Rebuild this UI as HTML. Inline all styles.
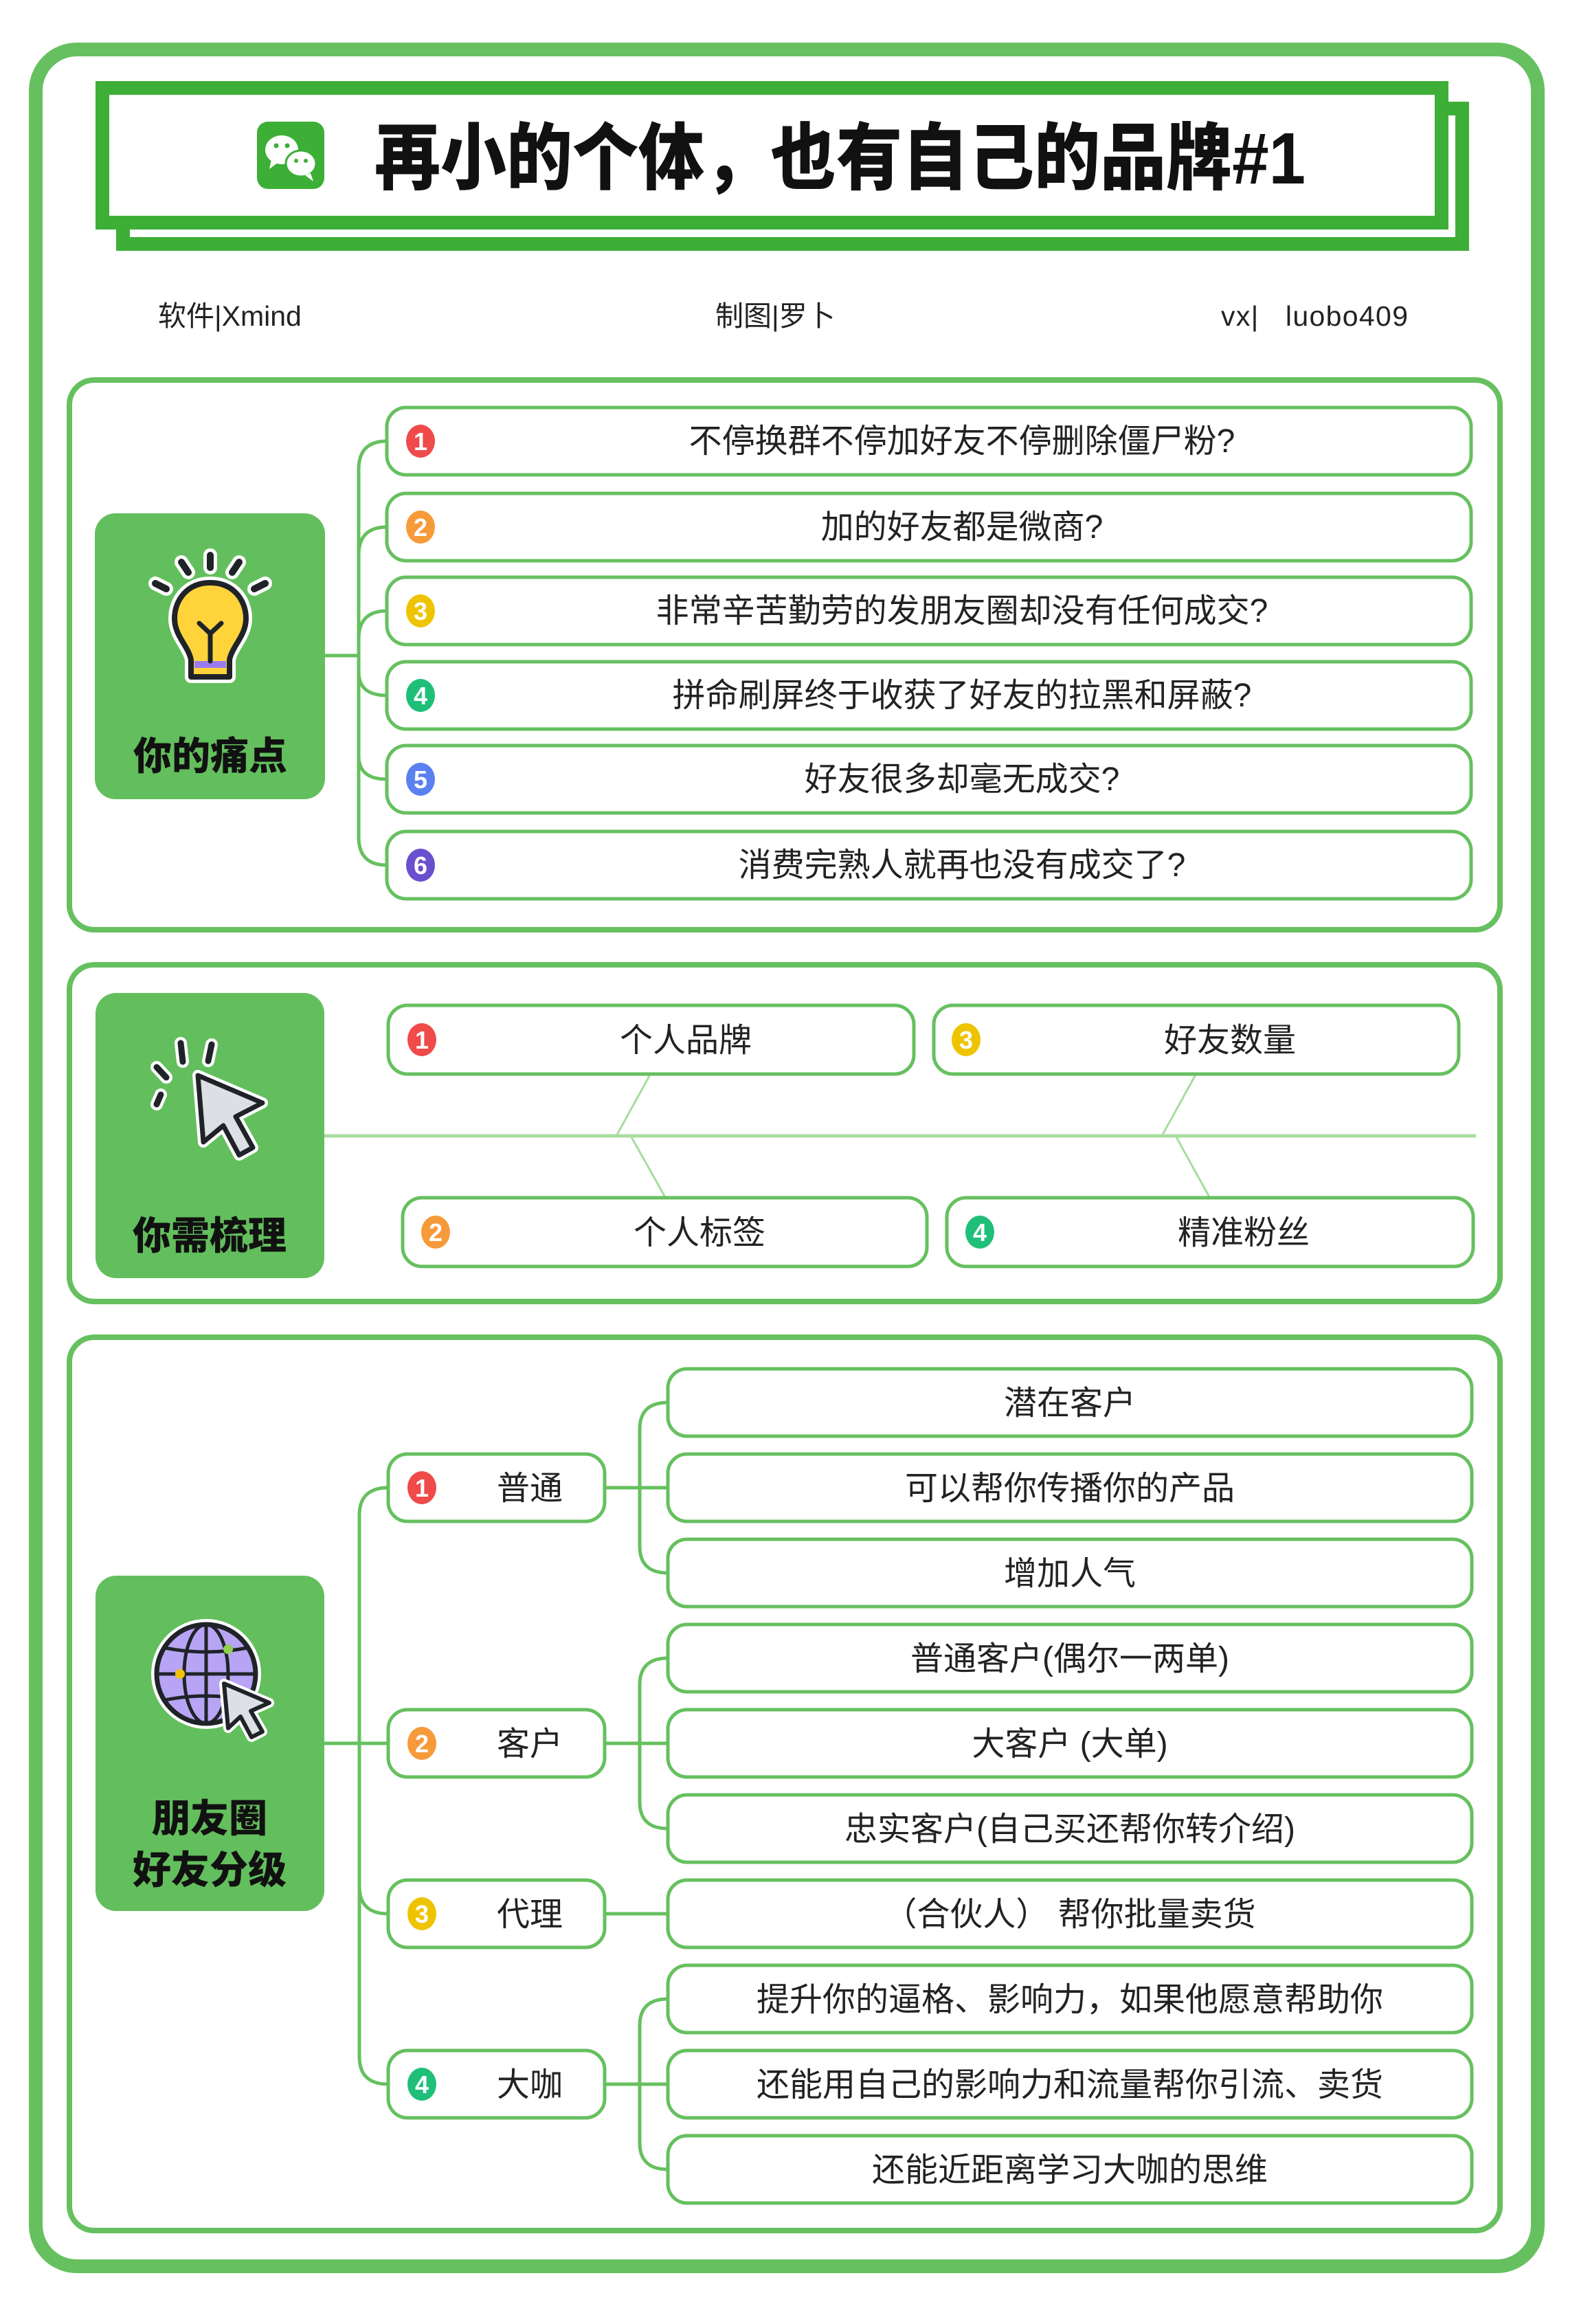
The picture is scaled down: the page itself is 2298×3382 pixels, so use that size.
<!DOCTYPE html>
<html><head><meta charset="utf-8"><style>
html,body{margin:0;padding:0;background:#fff}
svg{display:block}
text{font-family:"Liberation Sans","Noto Sans CJK SC",sans-serif}
</style></head><body>
<svg width="2298" height="3382" viewBox="0 0 2298 3382" xmlns="http://www.w3.org/2000/svg">
<rect x="52" y="72" width="2186" height="3226" rx="60" fill="#fff" stroke="#66c05f" stroke-width="20"/>
<rect x="179" y="158" width="1949" height="197" fill="#fff" stroke="#3daf37" stroke-width="20"/>
<rect x="149" y="128" width="1949" height="196" fill="#fff" stroke="#3daf37" stroke-width="20"/>
<rect x="374" y="177" width="98" height="98" rx="16" fill="#3daf37"/>
<ellipse cx="410" cy="218" rx="24" ry="21" fill="#fff"/>
<path d="M395 232 L392 246 L404 237 Z" fill="#fff"/>
<ellipse cx="438" cy="238" rx="22" ry="19" stroke="#3daf37" stroke-width="3" fill="#fff"/>
<path d="M452 252 L456 264 L444 255 Z" fill="#fff"/>
<circle cx="402" cy="212" r="3.5" fill="#3daf37"/><circle cx="418" cy="212" r="3.5" fill="#3daf37"/>
<circle cx="431" cy="234" r="3" fill="#3daf37"/><circle cx="445" cy="234" r="3" fill="#3daf37"/>
<text x="545" y="267" font-size="106" font-weight="900" fill="#111" textLength="1355" lengthAdjust="spacingAndGlyphs">再小的个体，也有自己的品牌#1</text>
<text x="230" y="474" font-size="41" fill="#222">软件|Xmind</text>
<text x="1041" y="474" font-size="41" fill="#222">制图|罗卜</text>
<text x="1777" y="474" font-size="41" fill="#222" textLength="272">vx|&#160;&#160;&#160;luobo409</text>

<!-- SECTION 1 -->
<rect x="101" y="553" width="2082" height="800" rx="36" fill="#fff" stroke="#66c05f" stroke-width="8"/>
<rect x="138" y="747" width="335" height="416" rx="30" fill="#63bf5d"/>
<g stroke-linecap="round">
<g stroke="#fff" stroke-width="20"><line x1="306" y1="808" x2="306" y2="826"/><line x1="264" y1="818" x2="274" y2="833"/><line x1="348" y1="818" x2="338" y2="833"/><line x1="226" y1="849" x2="242" y2="857"/><line x1="386" y1="849" x2="370" y2="857"/></g>
<g stroke="#1f2328" stroke-width="10"><line x1="306" y1="808" x2="306" y2="826"/><line x1="264" y1="818" x2="274" y2="833"/><line x1="348" y1="818" x2="338" y2="833"/><line x1="226" y1="849" x2="242" y2="857"/><line x1="386" y1="849" x2="370" y2="857"/></g>
</g>
<path d="M306 848 C340 848 358 874 358 900 C358 925 338 940 334 960 L334 985 L278 985 L278 960 C274 940 254 925 254 900 C254 874 272 848 306 848 Z" fill="#ffd43b" stroke="#fff" stroke-width="18" stroke-linejoin="round"/>
<path d="M306 848 C340 848 358 874 358 900 C358 925 338 940 334 960 L334 985 L278 985 L278 960 C274 940 254 925 254 900 C254 874 272 848 306 848 Z" fill="#ffd43b" stroke="#1f2328" stroke-width="8" stroke-linejoin="round"/>
<rect x="283" y="962" width="46" height="10" fill="#9b7cf0"/>
<path d="M290 907 L306 922 L322 907 M306 922 L306 962" stroke="#1f2328" stroke-width="7" fill="none" stroke-linecap="round"/>
<text x="306" y="1120" font-size="56" font-weight="900" fill="#111" text-anchor="middle">你的痛点</text>
<g stroke="#66c05f" stroke-width="5" fill="none">
<line x1="473" y1="954" x2="522" y2="954"/>
<path d="M563 642 Q522 642 522 683 L522 1218 Q522 1259 563 1259"/>
<path d="M522 808 Q522 767 563 767"/><path d="M522 930 Q522 889 563 889"/><path d="M522 978 Q522 1012 563 1012"/><path d="M522 1100 Q522 1134 563 1134"/>
</g>
<g fill="#fff" stroke="#66c05f" stroke-width="5">
<rect x="563" y="593" width="1578" height="98" rx="28"/>
<rect x="563" y="718" width="1578" height="98" rx="28"/>
<rect x="563" y="840" width="1578" height="98" rx="28"/>
<rect x="563" y="963" width="1578" height="98" rx="28"/>
<rect x="563" y="1085" width="1578" height="98" rx="28"/>
<rect x="563" y="1210" width="1578" height="98" rx="28"/>
</g>
<g font-size="36" font-weight="bold" fill="#fff" text-anchor="middle">
<ellipse cx="612" cy="642" rx="21" ry="24" fill="#f04a4a"/><text x="612" y="655">1</text>
<ellipse cx="612" cy="767" rx="21" ry="24" fill="#f79a3a"/><text x="612" y="780">2</text>
<ellipse cx="612" cy="889" rx="21" ry="24" fill="#eec400"/><text x="612" y="902">3</text>
<ellipse cx="612" cy="1012" rx="21" ry="24" fill="#1fbf7a"/><text x="612" y="1025">4</text>
<ellipse cx="612" cy="1134" rx="21" ry="24" fill="#5b80f0"/><text x="612" y="1147">5</text>
<ellipse cx="612" cy="1259" rx="21" ry="24" fill="#6a4fcf"/><text x="612" y="1272">6</text>
</g>
<g font-size="48" fill="#222" text-anchor="middle">
<text x="1400" y="658">不停换群不停加好友不停删除僵尸粉?</text>
<text x="1400" y="783">加的好友都是微商?</text>
<text x="1400" y="905">非常辛苦勤劳的发朋友圈却没有任何成交?</text>
<text x="1400" y="1028">拼命刷屏终于收获了好友的拉黑和屏蔽?</text>
<text x="1400" y="1150">好友很多却毫无成交?</text>
<text x="1400" y="1275">消费完熟人就再也没有成交了?</text>
</g>

<!-- SECTION 2 -->
<rect x="101" y="1404" width="2082" height="490" rx="36" fill="#fff" stroke="#66c05f" stroke-width="8"/>
<rect x="139" y="1445" width="333" height="415" rx="30" fill="#63bf5d"/>
<g stroke-linecap="round">
<g stroke="#fff" stroke-width="18"><line x1="263" y1="1518" x2="266" y2="1545"/><line x1="308" y1="1520" x2="303" y2="1544"/><line x1="228" y1="1553" x2="242" y2="1568"/><line x1="234" y1="1593" x2="228" y2="1607"/></g>
<g stroke="#1f2328" stroke-width="9"><line x1="263" y1="1518" x2="266" y2="1545"/><line x1="308" y1="1520" x2="303" y2="1544"/><line x1="228" y1="1553" x2="242" y2="1568"/><line x1="234" y1="1593" x2="228" y2="1607"/></g>
</g>
<path d="M288 1565 L382 1605 L343 1625 L368 1670 L348 1681 L325 1638 L296 1662 Z" fill="#dcdfe3" stroke="#fff" stroke-width="16" stroke-linejoin="round"/>
<path d="M288 1565 L382 1605 L343 1625 L368 1670 L348 1681 L325 1638 L296 1662 Z" fill="#dcdfe3" stroke="#1f2328" stroke-width="7" stroke-linejoin="round"/>
<text x="305" y="1818" font-size="56" font-weight="900" fill="#111" text-anchor="middle">你需梳理</text>
<line x1="472" y1="1653" x2="2148" y2="1653" stroke="#a8dca0" stroke-width="5"/>
<g stroke="#a8dca0" stroke-width="3">
<line x1="946" y1="1564" x2="897" y2="1653"/><line x1="918" y1="1653" x2="968" y2="1742"/>
<line x1="1740" y1="1564" x2="1691" y2="1653"/><line x1="1711" y1="1653" x2="1760" y2="1742"/>
</g>
<g fill="#fff" stroke="#66c05f" stroke-width="5">
<rect x="565" y="1463" width="765" height="100" rx="28"/>
<rect x="1359" y="1463" width="764" height="100" rx="28"/>
<rect x="586" y="1743" width="763" height="100" rx="28"/>
<rect x="1378" y="1743" width="766" height="100" rx="28"/>
</g>
<g font-size="36" font-weight="bold" fill="#fff" text-anchor="middle">
<ellipse cx="614" cy="1513" rx="21" ry="24" fill="#f04a4a"/><text x="614" y="1526">1</text>
<ellipse cx="1406" cy="1513" rx="21" ry="24" fill="#eec400"/><text x="1406" y="1526">3</text>
<ellipse cx="634" cy="1793" rx="21" ry="24" fill="#f79a3a"/><text x="634" y="1806">2</text>
<ellipse cx="1426" cy="1793" rx="21" ry="24" fill="#1fbf7a"/><text x="1426" y="1806">4</text>
</g>
<g font-size="48" fill="#222" text-anchor="middle">
<text x="998" y="1530">个人品牌</text>
<text x="1790" y="1530">好友数量</text>
<text x="1018" y="1810">个人标签</text>
<text x="1810" y="1810">精准粉丝</text>
</g>

<!-- SECTION 3 -->
<rect x="101" y="1946" width="2082" height="1300" rx="36" fill="#fff" stroke="#66c05f" stroke-width="8"/>
<rect x="139" y="2293" width="333" height="488" rx="30" fill="#63bf5d"/>
<circle cx="300" cy="2436" r="80" fill="#fff"/>
<circle cx="300" cy="2436" r="72" fill="#b8a4f5" stroke="#1f2328" stroke-width="7"/>
<g stroke="#1f2328" stroke-width="5" fill="none">
<ellipse cx="300" cy="2436" rx="32" ry="72"/><line x1="300" y1="2364" x2="300" y2="2508"/>
<line x1="228" y1="2436" x2="372" y2="2436"/><path d="M240 2398 Q300 2410 360 2398"/><path d="M240 2474 Q300 2462 360 2474"/>
</g>
<circle cx="262" cy="2436" r="7" fill="#f2c200"/><circle cx="332" cy="2400" r="7" fill="#8fd14f"/>
<path d="M326 2450 L392 2478 L365 2490 L382 2520 L366 2528 L350 2498 L332 2515 Z" fill="#dcdfe3" stroke="#fff" stroke-width="14" stroke-linejoin="round"/>
<path d="M326 2450 L392 2478 L365 2490 L382 2520 L366 2528 L350 2498 L332 2515 Z" fill="#dcdfe3" stroke="#1f2328" stroke-width="6" stroke-linejoin="round"/>
<text x="305" y="2666" font-size="56" font-weight="900" fill="#111" text-anchor="middle">朋友圈</text>
<text x="305" y="2741" font-size="56" font-weight="900" fill="#111" text-anchor="middle">好友分级</text>
<g stroke="#66c05f" stroke-width="5" fill="none">
<line x1="472" y1="2537" x2="565" y2="2537"/>
<path d="M565 2165 Q523 2165 523 2205 L523 2993 Q523 3033 565 3033"/>
<path d="M523 2745 Q523 2785 565 2785"/>
<line x1="880" y1="2165" x2="931" y2="2165"/><path d="M972 2041 Q931 2041 931 2080 L931 2250 Q931 2289 972 2289"/><line x1="931" y1="2165" x2="972" y2="2165"/>
<line x1="880" y1="2537" x2="972" y2="2537"/><path d="M972 2413 Q931 2413 931 2452 L931 2622 Q931 2661 972 2661"/>
<line x1="880" y1="2785" x2="972" y2="2785"/>
<line x1="880" y1="3033" x2="972" y2="3033"/><path d="M972 2909 Q931 2909 931 2948 L931 3118 Q931 3157 972 3157"/>
</g>
<g fill="#fff" stroke="#66c05f" stroke-width="5">
<rect x="565" y="2116" width="315" height="98" rx="28"/>
<rect x="565" y="2488" width="315" height="98" rx="28"/>
<rect x="565" y="2736" width="315" height="98" rx="28"/>
<rect x="565" y="2984" width="315" height="98" rx="28"/>
<rect x="972" y="1992" width="1170" height="98" rx="28"/>
<rect x="972" y="2116" width="1170" height="98" rx="28"/>
<rect x="972" y="2240" width="1170" height="98" rx="28"/>
<rect x="972" y="2364" width="1170" height="98" rx="28"/>
<rect x="972" y="2488" width="1170" height="98" rx="28"/>
<rect x="972" y="2612" width="1170" height="98" rx="28"/>
<rect x="972" y="2736" width="1170" height="98" rx="28"/>
<rect x="972" y="2860" width="1170" height="98" rx="28"/>
<rect x="972" y="2984" width="1170" height="98" rx="28"/>
<rect x="972" y="3108" width="1170" height="98" rx="28"/>
</g>
<g font-size="36" font-weight="bold" fill="#fff" text-anchor="middle">
<ellipse cx="614" cy="2165" rx="21" ry="24" fill="#f04a4a"/><text x="614" y="2178">1</text>
<ellipse cx="614" cy="2537" rx="21" ry="24" fill="#f79a3a"/><text x="614" y="2550">2</text>
<ellipse cx="614" cy="2785" rx="21" ry="24" fill="#eec400"/><text x="614" y="2798">3</text>
<ellipse cx="614" cy="3033" rx="21" ry="24" fill="#1fbf7a"/><text x="614" y="3046">4</text>
</g>
<g font-size="48" fill="#222" text-anchor="middle">
<text x="771" y="2182">普通</text>
<text x="771" y="2554">客户</text>
<text x="771" y="2802">代理</text>
<text x="771" y="3050">大咖</text>
<text x="1557" y="2058">潜在客户</text>
<text x="1557" y="2182">可以帮你传播你的产品</text>
<text x="1557" y="2306">增加人气</text>
<text x="1557" y="2430">普通客户(偶尔一两单)</text>
<text x="1557" y="2554">大客户 (大单)</text>
<text x="1557" y="2678">忠实客户(自己买还帮你转介绍)</text>
<text x="1557" y="2802">（合伙人） 帮你批量卖货</text>
<text x="1557" y="2926">提升你的逼格、影响力，如果他愿意帮助你</text>
<text x="1557" y="3050">还能用自己的影响力和流量帮你引流、卖货</text>
<text x="1557" y="3174">还能近距离学习大咖的思维</text>
</g>
</svg>
</body></html>
